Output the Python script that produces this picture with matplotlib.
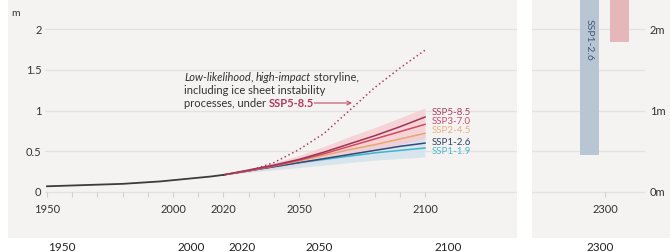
import matplotlib
matplotlib.use("Agg")
import matplotlib.pyplot as plt
from matplotlib.patches import Rectangle
import numpy as np

plt.rcParams['font.family'] = ['Lato', 'DejaVu Sans']

# ---------------- data ----------------
hist_years = [1950, 1955, 1960, 1965, 1970, 1975, 1980, 1985, 1990, 1995, 2000, 2005, 2010, 2015, 2020]
hist_vals = [0.07, 0.075, 0.08, 0.085, 0.09, 0.095, 0.10, 0.11, 0.12, 0.13, 0.145, 0.16, 0.175, 0.19, 0.21]

proj_years = [2020, 2030, 2040, 2050, 2060, 2070, 2080, 2090, 2100]
ssp119 = [0.21, 0.26, 0.31, 0.36, 0.40, 0.44, 0.48, 0.51, 0.54]
ssp126 = [0.21, 0.26, 0.31, 0.36, 0.41, 0.46, 0.51, 0.56, 0.60]
ssp245 = [0.21, 0.26, 0.32, 0.38, 0.45, 0.52, 0.58, 0.65, 0.72]
ssp370 = [0.21, 0.26, 0.32, 0.39, 0.47, 0.56, 0.65, 0.74, 0.83]
ssp585 = [0.21, 0.27, 0.33, 0.40, 0.49, 0.59, 0.69, 0.80, 0.92]

pink_low = [0.21, 0.25, 0.29, 0.34, 0.39, 0.45, 0.51, 0.58, 0.66]
pink_high = [0.21, 0.28, 0.36, 0.45, 0.56, 0.68, 0.79, 0.91, 1.03]
blue_low = [0.21, 0.24, 0.27, 0.30, 0.33, 0.36, 0.39, 0.41, 0.43]
blue_high = [0.21, 0.27, 0.33, 0.39, 0.46, 0.53, 0.60, 0.67, 0.73]

storyline_years = [2020, 2030, 2040, 2050, 2060, 2070, 2080, 2090, 2100]
storyline_vals = [0.21, 0.26, 0.36, 0.52, 0.72, 1.00, 1.28, 1.52, 1.74]

ssp_labels = ['SSP5-8.5', 'SSP3-7.0', 'SSP2-4.5', 'SSP1-2.6', 'SSP1-1.9']
ssp_label_y = [0.97, 0.86, 0.75, 0.61, 0.50]

x_tick_years = [1950, 2000, 2020, 2050, 2100]
y_ticks_left = [0, 0.5, 1, 1.5, 2]
y_ticklabels_left = ['0', '0.5', '1', '1.5', '2']

bar_2300_names = ['SSP1-2.6', 'SSP5-8.5']
bar_2300_low = [0.45, 1.84]
bar_2300_high = [3.1, 6.8]
y_ticks_right = [0, 1, 2]
y_ticklabels_right = ['0m', '1m', '2m']

# ---------------- styling ----------------
W, H = 670, 252
fig = plt.figure(figsize=(W / 100, H / 100), dpi=100)
fig.patch.set_facecolor('white')

panel = '#f4f3f2'
grid_c = '#e3e2e0'
txt = '#333333'

def fx(px):
    return px / W

def fy(py):
    return 1 - py / H

# panels (behind the axes)
fig.patches.append(Rectangle((fx(8), fy(238)), fx(517) - fx(8), 1 - fy(238),
                             transform=fig.transFigure, facecolor=panel, edgecolor='none', zorder=-5))
fig.patches.append(Rectangle((fx(532), fy(238)), 1 - fx(532), 1 - fy(238),
                             transform=fig.transFigure, facecolor=panel, edgecolor='none', zorder=-5))

ymin = (192 - 238) / 81.5
ymax = 192 / 81.5

def yr_px(px):
    return 1950 + (px - 47) / 2.52

def val_px(py):
    return (192 - py) / 81.5

# ---------------- left axes ----------------
ax = fig.add_axes([fx(45), fy(238), fx(517) - fx(45), 1 - fy(238)])
ax.set_facecolor('none')
ax.set_xlim(1950 - 2 / 2.52, 1950 + 470 / 2.52)
ax.set_ylim(ymin, ymax)
for s in ['top', 'right', 'left']:
    ax.spines[s].set_visible(False)
ax.spines['bottom'].set_position(('data', 0))
ax.spines['bottom'].set_visible(False)

for yv in y_ticks_left:
    ax.axhline(yv, color=grid_c, lw=0.9, zorder=1)

ax.set_yticks(y_ticks_left)
ax.set_yticklabels(y_ticklabels_left)
ax.tick_params(axis='y', length=0, pad=2.5, labelsize=8, labelcolor=txt)

ax.set_xticks(x_tick_years)
ax.set_xticklabels([str(y) for y in x_tick_years])
ax.set_xticks(list(range(1960, 2100, 10)), minor=True)
ax.tick_params(axis='x', which='both', length=3.5, width=0.8, color='#d2d1cf',
               pad=5, labelsize=8, labelcolor=txt)

ax.fill_between(proj_years, blue_low, blue_high, color='#d6e4ed', alpha=0.9, lw=0, zorder=2)
ax.fill_between(proj_years, pink_low, pink_high, color='#f6c9cf', alpha=0.75, lw=0, zorder=2)

line_cols = {'SSP1-1.9': '#3fb4d0', 'SSP1-2.6': '#2d4c7c', 'SSP2-4.5': '#e6a870',
             'SSP3-7.0': '#d04a62', 'SSP5-8.5': '#9e3455'}
for name, vals in [('SSP1-1.9', ssp119), ('SSP1-2.6', ssp126), ('SSP2-4.5', ssp245),
                   ('SSP3-7.0', ssp370), ('SSP5-8.5', ssp585)]:
    ax.plot(proj_years, vals, color=line_cols[name], lw=1.1, zorder=3)

ax.plot(hist_years, hist_vals, color='#3c3c3c', lw=1.3, zorder=4)
ax.plot(storyline_years, storyline_vals, color='#a8425e', lw=1.1, ls=(0, (1, 1.8)), zorder=3)

lab_cols = ['#a8425e', '#c4506a', '#e8b07e', '#2f4260', '#48b8d0']
for lab, yv, c in zip(ssp_labels, ssp_label_y, lab_cols):
    ax.text(2102.8, yv, lab, color=c, fontsize=7, va='center', ha='left')

# annotation built from pieces on a shared baseline
renderer = fig.canvas.get_renderer()
fs = 8

def rich_line(x_start_px, base_py, pieces):
    x = yr_px(x_start_px)
    last = None
    for s, kw in pieces:
        t = ax.text(x, val_px(base_py), s, fontsize=fs, va='baseline', ha='left', **kw)
        bb = t.get_window_extent(renderer)
        x = ax.transData.inverted().transform((bb.x1, bb.y0))[0]
        last = bb
    return last

rich_line(184, 81, [('Low-likelihood', dict(style='italic', color=txt)),
                    (', ', dict(color=txt)),
                    ('high-impact', dict(style='italic', color=txt)),
                    (' storyline,', dict(color=txt))])
rich_line(184, 94, [('including ice sheet instability', dict(color=txt))])
bb_end = rich_line(184, 107, [('processes, under ', dict(color=txt)),
                              ('SSP5-8.5', dict(color='#b03a5b', fontweight='bold'))])
x_arrow0 = ax.transData.inverted().transform((bb_end.x1, 0))[0]
ax.annotate('', xy=(yr_px(352), val_px(103)), xytext=(x_arrow0, val_px(103)),
            arrowprops=dict(arrowstyle='->', color='#c0506a', lw=0.8, mutation_scale=7,
                            shrinkA=0, shrinkB=0))

# ---------------- right axes ----------------
ax2 = fig.add_axes([fx(532), fy(238), fx(645) - fx(532), 1 - fy(238)])
ax2.set_facecolor('none')
ax2.set_xlim(-2.52, 1.38)
ax2.set_ylim(ymin, ymax)
for s in ['top', 'right', 'left', 'bottom']:
    ax2.spines[s].set_visible(False)
ax2.spines['bottom'].set_position(('data', 0))
for yv in y_ticks_left:
    ax2.axhline(yv, color=grid_c, lw=0.9, zorder=1)
ax2.yaxis.tick_right()
ax2.set_yticks(y_ticks_right)
ax2.set_yticklabels(y_ticklabels_right)
ax2.tick_params(axis='y', length=0, pad=3.5, labelsize=8, labelcolor=txt)
ax2.set_xticks([0])
ax2.set_xticklabels(['2300'])
ax2.tick_params(axis='x', length=3.5, width=0.8, color='#d2d1cf', pad=5, labelsize=8, labelcolor=txt)

bar_cols = ['#b8c6d4', '#e5b6ba']
bar_x = [-0.55, 0.5]
for bx, lo, hi, c in zip(bar_x, bar_2300_low, bar_2300_high, bar_cols):
    ax2.bar(bx, hi - lo, bottom=lo, width=0.66, color=c, zorder=2)
ax2.text(bar_x[0], val_px(40), bar_2300_names[0], rotation=-90, fontsize=7.5,
         color='#3f5a7e', ha='center', va='center', zorder=3)

# unit label
fig.text(fx(15.5), fy(14), 'm', fontsize=7.5, color=txt, ha='center', va='center')

# duplicated lower axis labels at the bottom edge
low_px = [62, 191, 242, 319, 448]
for yr, px in zip(x_tick_years, low_px):
    fig.text(fx(px), fy(251), str(yr), fontsize=8.5, color='#222222', ha='center', va='baseline')
fig.text(fx(600), fy(251), '2300', fontsize=8.5, color='#222222', ha='center', va='baseline')

fig.savefig('out.png', dpi=100, facecolor='white')
